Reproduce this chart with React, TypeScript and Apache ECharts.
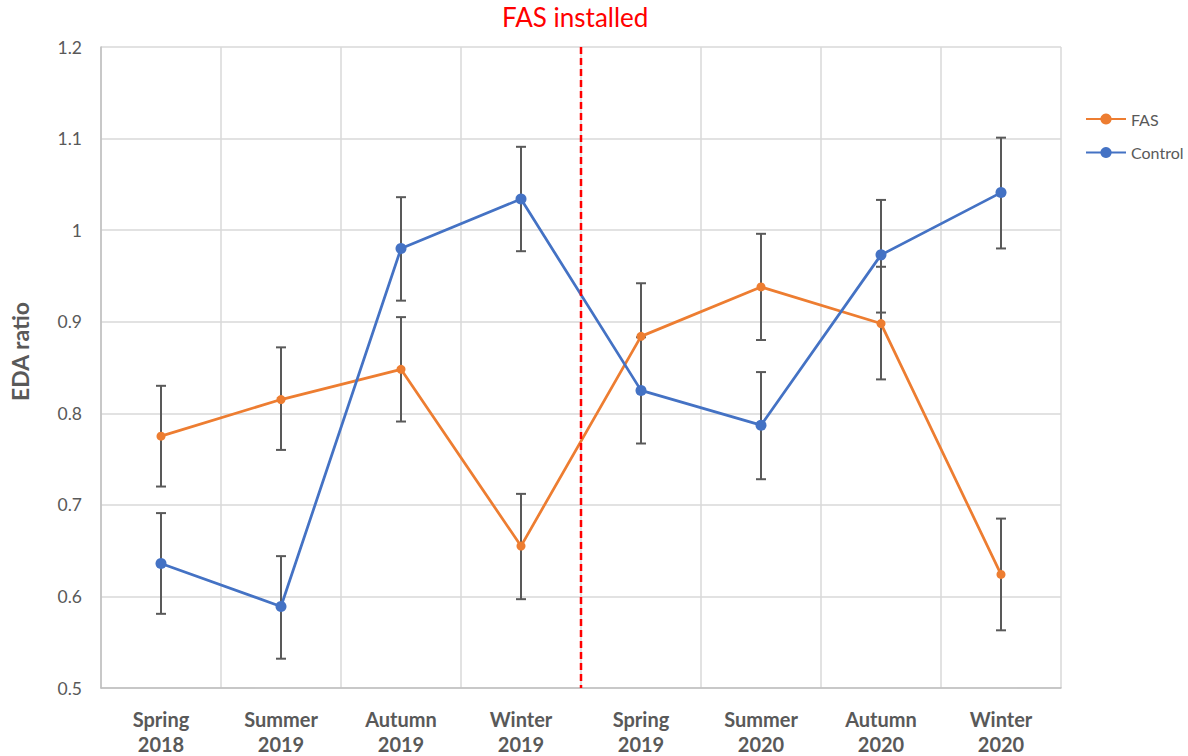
import React, { useEffect, useRef } from "react";
import * as echarts from "echarts";

const categories = [
  "Spring\n2018",
  "Summer\n2019",
  "Autumn\n2019",
  "Winter\n2019",
  "Spring\n2019",
  "Summer\n2020",
  "Autumn\n2020",
  "Winter\n2020",
];
const fasValues = [0.775, 0.815, 0.848, 0.655, 0.884, 0.938, 0.898, 0.624];
const fasLow = [0.72, 0.76, 0.791, 0.597, 0.826, 0.88, 0.837, 0.563];
const fasHigh = [0.83, 0.872, 0.905, 0.712, 0.942, 0.996, 0.96, 0.685];
const controlValues = [0.636, 0.589, 0.98, 1.034, 0.825, 0.787, 0.973, 1.041];
const controlLow = [0.581, 0.532, 0.923, 0.977, 0.767, 0.728, 0.91, 0.98];
const controlHigh = [0.691, 0.644, 1.036, 1.091, 0.883, 0.845, 1.033, 1.101];
const installAfterIndex = 3; // dashed line sits between Winter 2019 and Spring 2019
const yMin = 0.5;
const yMax = 1.2;
const yStep = 0.1;

const FONT = "Lato, 'Liberation Sans', sans-serif";
const GREY = "#595959";

function errorBarSeries(name: string, low: number[], high: number[]) {
  return {
    name: name + " error",
    type: "custom",
    z: 1,
    silent: true,
    renderItem: (params: any, api: any) => {
      const x = api.value(0);
      const pLo = api.coord([x, api.value(1)]);
      const pHi = api.coord([x, api.value(2)]);
      const w = 5;
      const style = { stroke: GREY, lineWidth: 2 };
      return {
        type: "group",
        children: [
          { type: "line", shape: { x1: pLo[0], y1: pLo[1], x2: pHi[0], y2: pHi[1] }, style },
          { type: "line", shape: { x1: pLo[0] - w, y1: pLo[1], x2: pLo[0] + w, y2: pLo[1] }, style },
          { type: "line", shape: { x1: pHi[0] - w, y1: pHi[1], x2: pHi[0] + w, y2: pHi[1] }, style },
        ],
      };
    },
    encode: { x: 0, y: [1, 2] },
    data: categories.map((_, i) => [i, low[i], high[i]]),
  };
}

export default function App() {
  const ref = useRef<HTMLDivElement>(null);
  useEffect(() => {
    if (!ref.current) return;
    const chart = echarts.init(ref.current, null, { renderer: "svg" });
    chart.setOption({
      animation: false,
      backgroundColor: "#ffffff",
      textStyle: { fontFamily: FONT },
      grid: { left: 101, right: 127, top: 47, bottom: 65 },
      legend: {
        orient: "vertical",
        left: 1085,
        top: 111,
        padding: 0,
        itemWidth: 40,
        itemHeight: 14,
        itemGap: 17.5,
        data: ["FAS", "Control"],
        textStyle: { color: GREY, fontSize: 16, fontFamily: FONT },
      },
      graphic: [
        {
          type: "text",
          left: 502,
          top: 4,
          style: {
            text: "FAS installed",
            fill: "#FF0000",
            fontSize: 26,
            fontFamily: FONT,
          },
        },
      ],
      xAxis: {
        type: "category",
        data: categories,
        boundaryGap: true,
        axisLine: { show: true, lineStyle: { color: "#BFBFBF", width: 1.5 } },
        axisTick: { show: false },
        splitLine: { show: true, lineStyle: { color: "#D9D9D9", width: 1.5 } },
        axisLabel: {
          color: GREY,
          fontSize: 20,
          fontWeight: "bold",
          lineHeight: 25,
          margin: 18,
          fontFamily: FONT,
          interval: 0,
        },
      },
      yAxis: {
        type: "value",
        min: yMin,
        max: yMax,
        interval: yStep,
        name: "EDA ratio",
        nameLocation: "middle",
        nameGap: 70,
        nameTextStyle: {
          color: GREY,
          fontSize: 23,
          fontWeight: "bold",
          fontFamily: FONT,
          padding: [0, 0, 0, 32],
        },
        axisLine: { show: true, lineStyle: { color: "#BFBFBF", width: 1.5 } },
        axisTick: { show: false },
        splitLine: { show: true, lineStyle: { color: "#D9D9D9", width: 1.5 } },
        axisLabel: {
          color: GREY,
          fontSize: 17.5,
          margin: 19,
          fontFamily: FONT,
          formatter: (v: number) => String(Math.round(v * 10) / 10),
        },
      },
      series: [
        errorBarSeries("FAS", fasLow, fasHigh),
        errorBarSeries("Control", controlLow, controlHigh),
        {
          name: "FAS",
          type: "line",
          z: 3,
          data: fasValues,
          symbol: "circle",
          symbolSize: 9,
          itemStyle: { color: "#ED7D31" },
          lineStyle: { color: "#ED7D31", width: 2.75 },
        },
        {
          name: "Control",
          type: "line",
          z: 4,
          data: controlValues,
          symbol: "circle",
          symbolSize: 11,
          itemStyle: { color: "#4472C4" },
          lineStyle: { color: "#4472C4", width: 2.75 },
        },
        {
          name: "install line",
          type: "custom",
          z: 5,
          silent: true,
          renderItem: (params: any, api: any) => {
            const top = api.coord([installAfterIndex, yMax]);
            const bottom = api.coord([installAfterIndex, yMin]);
            const half = api.size([1, 0])[0] / 2;
            return {
              type: "line",
              shape: { x1: top[0] + half, y1: top[1], x2: bottom[0] + half, y2: bottom[1] },
              style: { stroke: "#FF0000", lineWidth: 2.5, lineDash: [7, 4] },
            };
          },
          data: [[installAfterIndex, yMin]],
        },
      ],
    });
    return () => chart.dispose();
  }, []);
  return (
    <div
      ref={ref}
      style={{ position: "absolute", left: 0, top: 0, width: 1188, height: 756 }}
    />
  );
}
